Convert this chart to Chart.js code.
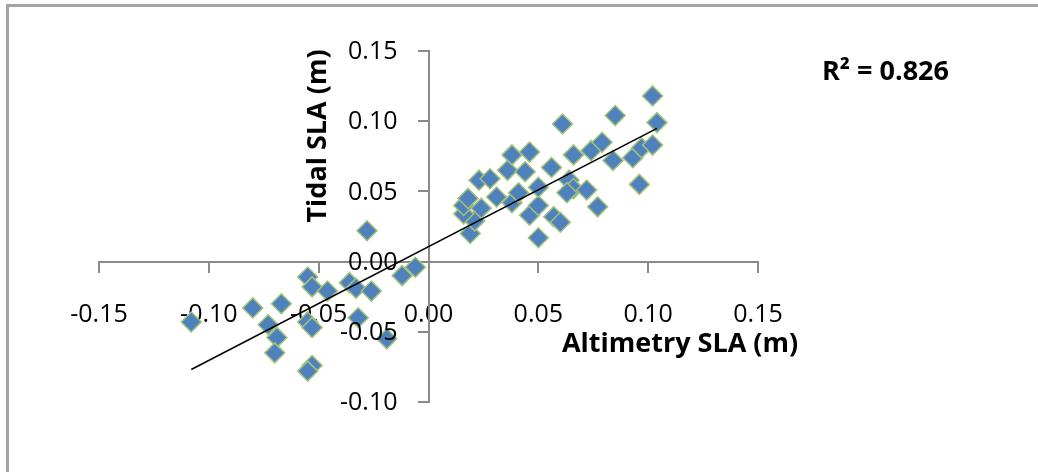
<!DOCTYPE html>
<html>
<head>
<meta charset="utf-8">
<title>Altimetry vs Tidal SLA</title>
<script src="https://cdn.jsdelivr.net/npm/chart.js@4.4.1/dist/chart.umd.min.js"></script>
<style>
  html, body { margin: 0; padding: 0; background: #fff; }
  #wrap { width: 1038px; height: 472px; }
</style>
</head>
<body>
<div id="wrap"><canvas id="slaCanvas" width="1038" height="472"></canvas></div>
<script>
// Altimetry SLA (m) vs Tidal SLA (m)
const altimetry = [
  -0.108, -0.080, -0.067, -0.073, -0.069, -0.070, -0.055, -0.053, -0.055, -0.053,
  -0.053, -0.055, -0.046, -0.036, -0.033, -0.026, -0.032, -0.019, -0.028, -0.012,
  -0.006,
  0.019, 0.021, 0.016, 0.016, 0.018, 0.024, 0.023, 0.028, 0.031, 0.036,
  0.038, 0.038, 0.041, 0.044, 0.046, 0.046, 0.050, 0.050, 0.050, 0.057,
  0.060, 0.056, 0.061, 0.064, 0.066, 0.063, 0.072, 0.066, 0.074, 0.079,
  0.084, 0.085, 0.077, 0.093, 0.096, 0.097, 0.102, 0.102, 0.104
];
const tidal = [
  -0.043, -0.033, -0.030, -0.045, -0.054, -0.065, -0.011, -0.018, -0.043, -0.047,
  -0.074, -0.078, -0.021, -0.015, -0.019, -0.021, -0.040, -0.055, 0.022, -0.010,
  -0.004,
  0.020, 0.029, 0.034, 0.040, 0.045, 0.038, 0.058, 0.059, 0.046, 0.065,
  0.076, 0.042, 0.049, 0.064, 0.078, 0.033, 0.040, 0.053, 0.017, 0.032,
  0.028, 0.067, 0.098, 0.058, 0.052, 0.049, 0.051, 0.076, 0.079, 0.085,
  0.072, 0.104, 0.039, 0.074, 0.055, 0.081, 0.083, 0.118, 0.099
];

// linear trendline as drawn in the picture
const trendSlope = 0.81;
const trendIntercept = 0.0106;
const rSquaredText = 'R² = 0.826';

const xTitle = 'Altimetry SLA (m)';
const yTitle = 'Tidal SLA (m)';

const axisGray = '#8a8a8a';
const fontFamily = '"Open Sans", "Liberation Sans", Arial, sans-serif';
const tickFontSize = 25;

const points = altimetry.map((x, i) => ({ x, y: tidal[i] }));
const xMin = Math.min(...altimetry);
const xMax = Math.max(...altimetry);
const trendPoints = [xMin, xMax].map(x => ({ x, y: trendSlope * x + trendIntercept }));

function fmt(v) {
  if (Math.abs(v) < 1e-9) return '0.00';
  return v.toFixed(2);
}

// frame, y tick labels, axis titles and R² label
const decorations = {
  id: 'decorations',
  beforeDraw(chart) {
    const ctx = chart.ctx;
    ctx.save();
    ctx.fillStyle = '#fff';
    ctx.fillRect(0, 0, chart.width, chart.height);
    ctx.strokeStyle = '#a4a4a4';
    ctx.lineWidth = 3;
    ctx.strokeRect(7.5, 5.5, chart.width + 20, chart.height + 20);
    ctx.restore();
  },
  afterDatasetsDraw(chart) {
    // y labels sit left of the tick marks (Chart.js puts them on the axis line when the axis is centred)
    const ctx = chart.ctx;
    const yScale = chart.scales.y;
    const axisX = chart.scales.x.getPixelForValue(0);
    ctx.save();
    ctx.fillStyle = '#000';
    ctx.font = tickFontSize + 'px ' + fontFamily;
    ctx.textAlign = 'right';
    ctx.textBaseline = 'middle';
    yScale.ticks.forEach(t => {
      ctx.fillText(fmt(t.value), axisX - 31, yScale.getPixelForValue(t.value) + 1);
    });
    ctx.restore();
  },
  afterDraw(chart) {
    const ctx = chart.ctx;
    ctx.save();
    ctx.fillStyle = '#000';
    ctx.font = 'bold 27px ' + fontFamily;
    ctx.textAlign = 'center';
    ctx.textBaseline = 'middle';
    ctx.fillText(xTitle, 680, 344);

    ctx.translate(318, 136);
    ctx.rotate(-Math.PI / 2);
    ctx.fillText(yTitle, 0, 0);
    ctx.restore();

    ctx.save();
    ctx.fillStyle = '#000';
    ctx.font = 'bold 27px ' + fontFamily;
    ctx.textAlign = 'left';
    ctx.textBaseline = 'middle';
    ctx.fillText(rSquaredText, 822, 72);
    ctx.restore();
  }
};

const ctx = document.getElementById('slaCanvas').getContext('2d');
const chart = new Chart(ctx, {
  type: 'scatter',
  data: {
    datasets: [
      {
        label: 'Trend',
        data: trendPoints,
        showLine: true,
        borderColor: '#000',
        borderWidth: 1.5,
        pointRadius: 0,
        order: 0
      },
      {
        label: 'SLA',
        data: points,
        pointStyle: 'rectRot',
        pointRadius: 10,
        pointHoverRadius: 10,
        backgroundColor: '#4f81bd',
        borderColor: '#a3c27a',
        pointBorderWidth: 1.5,
        order: 1
      }
    ]
  },
  options: {
    responsive: false,
    animation: false,
    layout: { padding: { left: 99, right: 280, top: 51, bottom: 70 } },
    plugins: {
      legend: { display: false },
      tooltip: { enabled: false }
    },
    scales: {
      x: {
        type: 'linear',
        position: { y: 0 },
        min: -0.15,
        max: 0.15,
        z: 1,
        ticks: {
          stepSize: 0.05,
          callback: fmt,
          color: '#000',
          padding: 28,
          maxRotation: 0,
          font: { family: fontFamily, size: tickFontSize }
        },
        grid: {
          drawOnChartArea: false,
          tickLength: 10,
          color: axisGray,
          lineWidth: 2
        },
        border: { color: axisGray, width: 2 }
      },
      y: {
        type: 'linear',
        position: { x: 0 },
        min: -0.10,
        max: 0.15,
        z: 1,
        ticks: {
          stepSize: 0.05,
          display: false
        },
        grid: {
          drawOnChartArea: false,
          tickLength: 10,
          color: axisGray,
          lineWidth: 2
        },
        border: { color: axisGray, width: 2 }
      }
    }
  },
  plugins: [decorations]
});
</script>
</body>
</html>
